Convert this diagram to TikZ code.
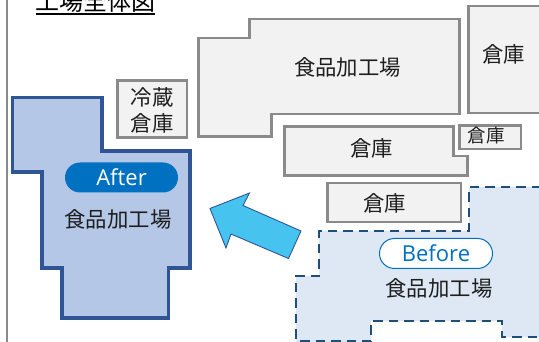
\documentclass[tikz,border=0pt]{standalone}
\usepackage{fontspec}
\setmainfont{Open Sans}
\newfontfamily\jpf{Noto Sans CJK JP}[Scale=1]
\definecolor{grayline}{HTML}{8A8A8A}
\definecolor{grayfill}{HTML}{F2F2F2}
\definecolor{afterfill}{HTML}{B4C7E7}
\definecolor{afterline}{HTML}{2F5597}
\definecolor{beforefill}{HTML}{DEE8F4}
\definecolor{beforeline}{HTML}{1F4E79}
\definecolor{pill}{HTML}{0070C0}
\definecolor{arrowfill}{HTML}{47C3F0}
\definecolor{ink}{HTML}{1E1E1E}
\tikzset{
  bldg/.style={draw=grayline,fill=grayfill,line width=2.8pt,line join=miter},
  afterbldg/.style={draw=afterline,fill=afterfill,line width=3.8pt,line join=miter},
  beforefillst/.style={fill=beforefill,draw=none},
  beforedash/.style={draw=beforeline,line width=2.8pt,dash pattern=on 9.5pt off 6pt},
  label/.style={inner sep=0pt,text=ink,font=\jpf\fontsize{21.4}{21.4}\selectfont},
  smalllabel/.style={inner sep=0pt,text=ink,font=\jpf\fontsize{18.5}{18.5}\selectfont},
  pillbase/.style={rounded rectangle,minimum width=113pt,minimum height=30pt,inner sep=0pt,font=\fontsize{22}{22}\selectfont}
}
\usetikzlibrary{shapes.misc}
\begin{document}
\begin{tikzpicture}[x=1pt,y=-1pt]
\useasboundingbox (0,0) rectangle (539,342);
\clip (0,0) rectangle (539,342);
% frame line on the left
\coordinate (frameT) at (7,0);
\coordinate (frameB) at (7,342);
\draw[grayline,line width=1.5pt] (frameT) -- (frameB);
% title
\node[inner sep=0pt,text=black,font=\jpf\fontsize{24}{24}\selectfont] (title) at (95.5,1) {工場全体図};
\coordinate (ulL) at (36,14);
\coordinate (ulR) at (155,14);
\draw[black,line width=1.2pt] (ulL) -- (ulR);
% grey buildings
\draw[bldg] (198.5,38) -- (249.5,38) -- (249.5,19) -- (459.5,19) -- (459.5,114) -- (271.5,114) -- (271.5,136.5) -- (198.5,136.5) -- cycle;
\draw[bldg] (541,6) -- (468.5,6) -- (468.5,113) -- (541,113);
\draw[bldg] (284.5,126.5) -- (453.5,126.5) -- (453.5,156) -- (467.5,156) -- (467.5,175.5) -- (284.5,175.5) -- cycle;
\draw[bldg] (459.5,125.5) rectangle (521,149);
\draw[bldg] (327.5,183) rectangle (461,222);
\draw[bldg] (117.5,80.5) rectangle (187,137.5);
% before building
\fill[beforefillst] (469,187) -- (541,187) -- (541,337) -- (502,337) -- (502,321) -- (371,321) -- (371,342) -- (296,342) -- (296,276) -- (319,276) -- (319,231) -- (469,231) -- cycle;
\draw[beforedash] (541,187) -- (469,187) -- (469,231) -- (319,231) -- (319,276) -- (296,276) -- (296,341) -- (371,341) -- (371,321) -- (502,321) -- (502,337) -- (541,337);
% after building
\draw[afterbldg] (12.5,97.5) -- (102,97.5) -- (102,151) -- (190,151) -- (190,268) -- (168.5,268) -- (168.5,318) -- (62,318) -- (62,268) -- (42,268) -- (42,172) -- (12.5,172) -- cycle;
% arrow
\draw[draw=afterline,fill=arrowfill,line width=0.9pt,line join=miter] (210,208.5) -- (249.5,193) -- (243,205.5) -- (301,231) -- (288.5,258.5) -- (231,234) -- (226,248) -- cycle;
% pills
\node[pillbase,fill=pill,text=white] (afterpill) at (121.5,177.5) {After};
\node[pillbase,draw=pill,line width=1pt,fill=white,text=pill] (beforepill) at (436,253.5) {Before};
% labels
\node[label] (f1) at (347.5,67) {食品加工場};
\node[label] (w1) at (503.5,54.5) {倉庫};
\node[label] (w2) at (371.5,148.5) {倉庫};
\node[smalllabel] (w3) at (486,135) {倉庫};
\node[label] (w4) at (384.5,203.5) {倉庫};
\node[label] (c1) at (152,97) {冷蔵};
\node[label] (c2) at (152,123.5) {倉庫};
\node[label] (f2) at (118,219.5) {食品加工場};
\node[label] (f3) at (439,288.5) {食品加工場};
\end{tikzpicture}
\end{document}
